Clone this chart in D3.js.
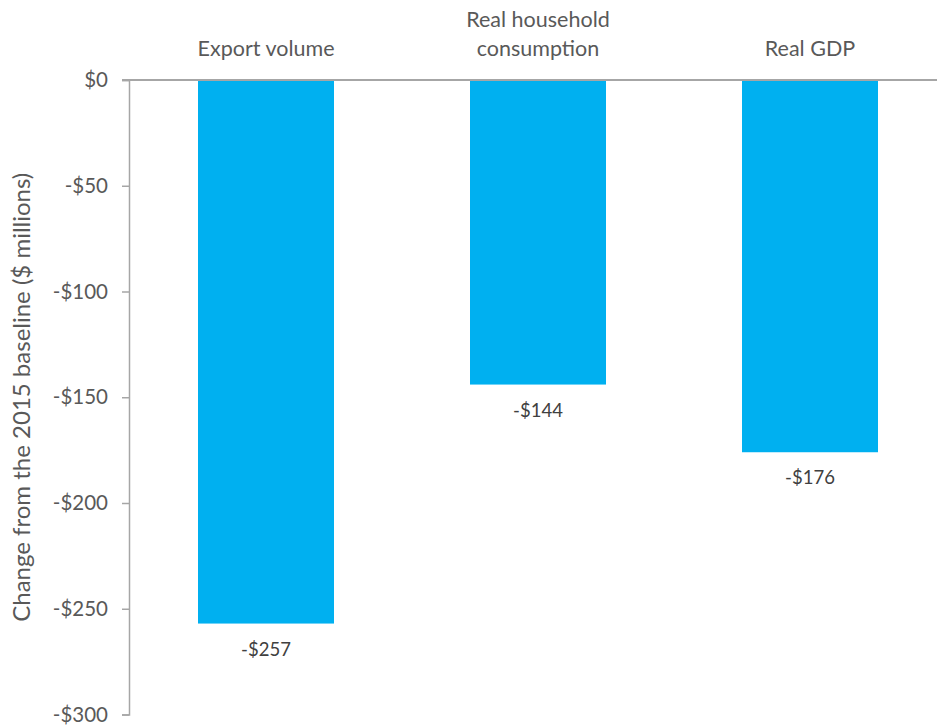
<!DOCTYPE html>
<html><head><meta charset="utf-8">
<script src="https://cdn.jsdelivr.net/npm/d3@7"></script>
<style>body{margin:0;background:#fff;} text{font-family:Lato,"Open Sans",sans-serif;fill:#595959;}</style>
</head><body>
<svg id="chart" width="937" height="726"></svg>
<script>
const categories = [["Export volume"], ["Real household", "consumption"], ["Real GDP"]];
const values = [-257, -144, -176];
const valueLabels = ["-$257", "-$144", "-$176"];
const yTicks = [0, -50, -100, -150, -200, -250, -300];
const yTitle = "Change from the 2015 baseline ($ millions)";

const svg = d3.select("#chart");
const x = d3.scaleBand().domain(d3.range(values.length)).range([130, 946]).paddingInner(0.5).paddingOuter(0.25);
const y = d3.scaleLinear().domain([-300, 0]).range([714.5, 80]);
const fmt = v => v === 0 ? "$0" : "-$" + Math.abs(v);

// bars
svg.selectAll("rect.bar").data(values).join("rect")
  .attr("class", "bar")
  .attr("x", (d, i) => x(i)).attr("width", x.bandwidth())
  .attr("y", y(0)).attr("height", d => y(d) - y(0))
  .attr("fill", "#00B0F0");

// y axis
const yAxis = svg.append("g").attr("transform", "translate(129,0)")
  .call(d3.axisLeft(y).tickValues(yTicks).tickFormat(fmt).tickSize(7).tickPadding(14));
yAxis.select(".domain").attr("stroke", "#a6a6a6").attr("stroke-width", 1.5);
yAxis.selectAll(".tick line").attr("stroke", "#a6a6a6").attr("stroke-width", 1.5);
yAxis.selectAll(".tick text").style("font-size", "20.5px").attr("fill", "#595959").style("font-family", "Lato");

// zero line
svg.append("line").attr("x1", 122).attr("x2", 937).attr("y1", y(0)).attr("y2", y(0))
  .attr("stroke", "#a6a6a6").attr("stroke-width", 2);

// category labels
categories.forEach((lines, i) => {
  const cx = x(i) + x.bandwidth() / 2;
  const t = svg.append("text").attr("text-anchor", "middle").style("font-size", "21.5px");
  lines.forEach((ln, j) => {
    t.append("tspan").attr("x", cx).attr("y", 56 - (lines.length - 1 - j) * 29).text(ln);
  });
});

// value labels
svg.selectAll("text.val").data(values).join("text").attr("class", "val")
  .attr("x", (d, i) => x(i) + x.bandwidth() / 2)
  .attr("y", d => y(d) + 32)
  .attr("text-anchor", "middle").style("font-size", "18.5px").style("fill", "#404040")
  .text((d, i) => valueLabels[i]);

// y title
svg.append("text").attr("transform", `translate(30,${(y(0) + y(-300)) / 2}) rotate(-90)`)
  .attr("text-anchor", "middle").style("font-size", "24px").text(yTitle);
</script>
</body></html>
